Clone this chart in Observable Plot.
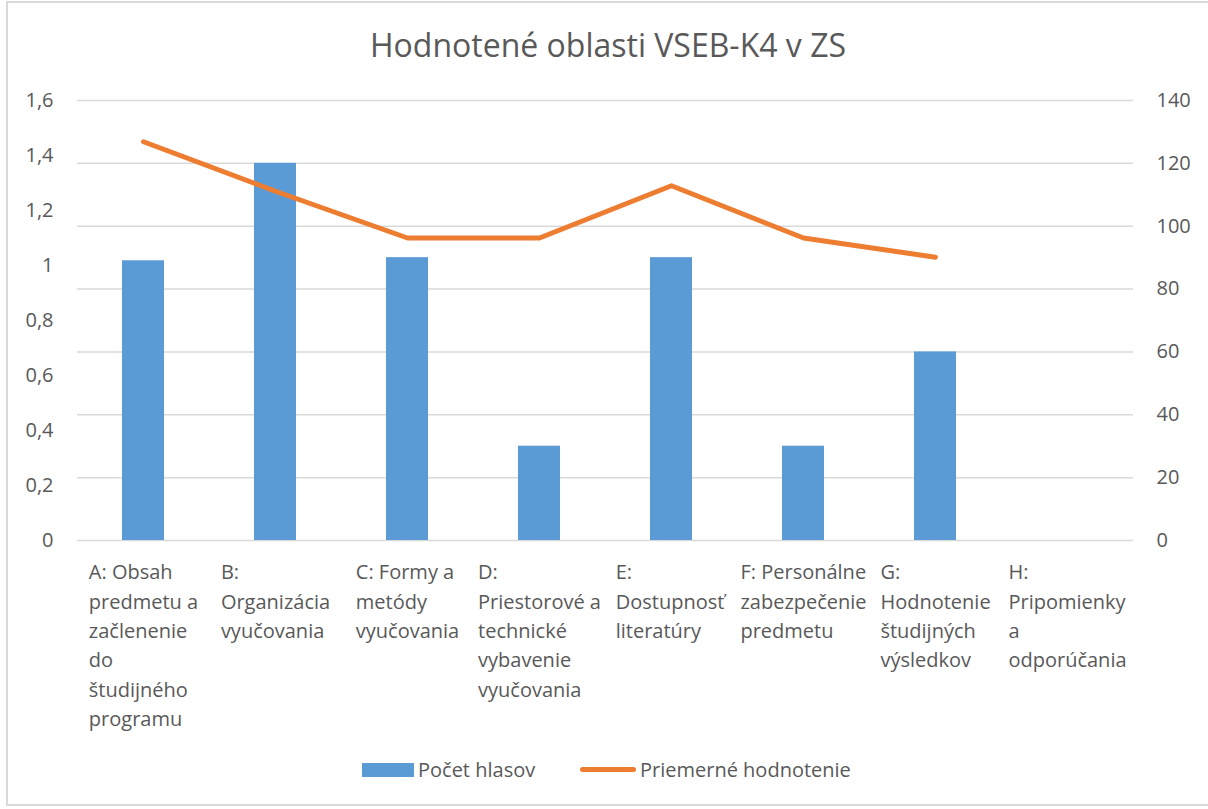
<!DOCTYPE html>
<html>
<head>
<meta charset="utf-8">
<script src="https://cdn.jsdelivr.net/npm/d3@7"></script>
<script src="https://cdn.jsdelivr.net/npm/@observablehq/plot@0.6"></script>
<style>
  html, body { margin: 0; padding: 0; background: #fff; }
  body { width: 1208px; height: 809px; position: relative; overflow: hidden; font-family: "Open Sans", sans-serif; color: #595959; }
  #frame { position: absolute; left: 6px; top: 1px; width: 1210px; height: 805px; border: 2px solid #D9D9D9; box-sizing: border-box; }
  #title { position: absolute; left: 0; width: 1216px; top: 23px; text-align: center; font-size: 32px; line-height: 44px; color: #595959; }
  #chart { position: absolute; left: 0; top: 80px; }
  #legend { position: absolute; top: 755px; left: 0; width: 1208px; height: 30px; font-size: 20px; color: #595959; }
  .sw-bar { position: absolute; left: 362px; top: 8px; width: 52px; height: 14px; background: #5B9BD5; }
  .lab1 { position: absolute; left: 418px; top: 0px; line-height: 30px; }
  .sw-line { position: absolute; left: 580px; top: 12px; width: 56px; height: 5px; border-radius: 3px; background: #ED7D31; }
  .lab2 { position: absolute; left: 640px; top: 0px; line-height: 30px; }
</style>
</head>
<body>
<div id="frame"></div>
<div id="title">Hodnotené oblasti VSEB-K4 v ZS</div>
<div id="chart"></div>
<div id="legend">
  <div class="sw-bar"></div><div class="lab1">Počet hlasov</div>
  <div class="sw-line"></div><div class="lab2">Priemerné hodnotenie</div>
</div>
<script>
// ---- data ----
const categories = [
  "A: Obsah\npredmetu a\nzačlenenie\ndo\nštudijného\nprogramu",
  "B:\nOrganizácia\nvyučovania",
  "C: Formy a\nmetódy\nvyučovania",
  "D:\nPriestorové a\ntechnické\nvybavenie\nvyučovania",
  "E:\nDostupnosť\nliteratúry",
  "F: Personálne\nzabezpečenie\npredmetu",
  "G:\nHodnotenie\nštudijných\nvýsledkov",
  "H:\nPripomienky\na\nodporúčania"
];
const votes = [89, 120, 90, 30, 90, 30, 60, 0];            // Počet hlasov (right axis)
const ratings = [1.45, 1.27, 1.1, 1.1, 1.29, 1.1, 1.03, null]; // Priemerné hodnotenie (left axis)
const leftTicks = [0, 0.2, 0.4, 0.6, 0.8, 1, 1.2, 1.4, 1.6];
const rightTicks = [0, 20, 40, 60, 80, 100, 120, 140];

// secondary axis mapping: left [0,1.6] -> right [0,140]
const toRight = d3.scaleLinear([0, 1.6], [0, 140]);

const rows = categories.map((c, i) => ({cat: c, votes: votes[i], rating: ratings[i] == null ? null : toRight(ratings[i])}));

const fmtLeft = d => String(Math.round(toRight.invert(d) * 10) / 10).replace(".", ",");

const textColor = "#595959";
const plot = Plot.plot({
  width: 1208,
  height: 650,
  marginTop: 20,
  marginBottom: 190,
  marginLeft: 77,
  marginRight: 75,
  style: {fontFamily: "Open Sans, sans-serif", fontSize: "20px", color: textColor, background: "transparent", overflow: "visible"},
  x: {domain: categories, padding: 0, round: false, label: null},
  y: {domain: [0, 140], label: null},
  marks: [
    Plot.gridY(rightTicks, {stroke: "#D9D9D9", strokeOpacity: 1, strokeWidth: 1.5}),
    Plot.barY(rows, {x: "cat", y: "votes", fill: "#5B9BD5", insetLeft: 45, insetRight: 45}),
    Plot.lineY(rows, {x: "cat", y: "rating", stroke: "#ED7D31", strokeWidth: 5, strokeLinecap: "round", strokeLinejoin: "round"}),
    Plot.axisY(leftTicks.map(t => toRight(t)), {anchor: "left", tickSize: 0, tickPadding: 24, tickFormat: fmtLeft, fontSize: 20, fill: textColor, label: null}),
    Plot.axisY(rightTicks, {anchor: "right", tickSize: 0, tickPadding: 23, tickFormat: d => String(d), fontSize: 20, fill: textColor, label: null}),
    Plot.axisX({tickSize: 0, tickPadding: 18, textAnchor: "start", lineAnchor: "top", lineHeight: 1.465, fontSize: 20, fill: textColor, label: null})
  ]
});
document.getElementById("chart").appendChild(plot);

// center each wrapped category block on its band, lines left-aligned
plot.querySelectorAll('g[aria-label="x-axis tick label"] text').forEach(t => {
  const w = t.getBBox().width;
  const tr = t.getAttribute("transform") || "";
  t.setAttribute("transform", tr + ` translate(${-w / 2},0)`);
});
</script>
</body>
</html>
